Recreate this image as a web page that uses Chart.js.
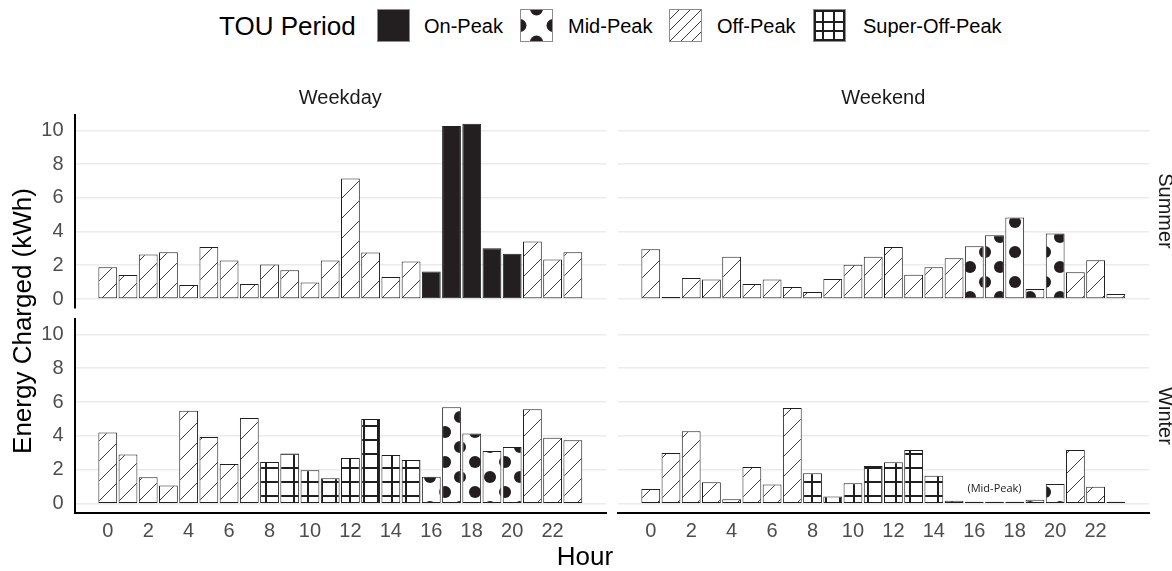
<!DOCTYPE html>
<html>
<head>
<meta charset="utf-8">
<title>Energy Charged by Hour and TOU Period</title>
<script src="https://cdn.jsdelivr.net/npm/chart.js@4.4.1/dist/chart.umd.min.js"></script>
<style>
  html, body { margin: 0; padding: 0; background: #fff; }
  body {
    width: 1172px; height: 571px; position: relative; overflow: hidden;
    font-family: "Liberation Sans", Arial, sans-serif; color: #1a1a1a;
  }
  canvas.panel { position: absolute; }
  .txt { position: absolute; white-space: nowrap; z-index: 2; }
  .key { position: absolute; z-index: 2; }
</style>
</head>
<body>

<!-- legend -->
<div class="txt" style="left:219px; top:11px; font-size:26px; line-height:30px; color:#000;">TOU Period</div>
<canvas class="key" id="key-on" width="33" height="33" style="left:377px; top:9px;"></canvas>
<div class="txt" style="left:424px; top:13px; font-size:20px; line-height:26px; color:#000;">On-Peak</div>
<canvas class="key" id="key-mid" width="33" height="33" style="left:520px; top:9px;"></canvas>
<div class="txt" style="left:568px; top:13px; font-size:20px; line-height:26px; color:#000;">Mid-Peak</div>
<canvas class="key" id="key-off" width="33" height="33" style="left:669px; top:9px;"></canvas>
<div class="txt" style="left:717px; top:13px; font-size:20px; line-height:26px; color:#000;">Off-Peak</div>
<canvas class="key" id="key-super" width="33" height="33" style="left:813px; top:9px;"></canvas>
<div class="txt" style="left:863px; top:13px; font-size:20px; line-height:26px; color:#000;">Super-Off-Peak</div>

<!-- facet strips -->
<div class="txt" style="left:74.5px; width:531.6px; top:85px; line-height:24px; font-size:20px; text-align:center;">Weekday</div>
<div class="txt" style="left:617.5px; width:531.6px; top:85px; line-height:24px; font-size:20px; text-align:center;">Weekend</div>
<div class="txt" style="left:1068.5px; width:193px; top:199.4px; line-height:24px; font-size:20px; text-align:center; transform:rotate(90deg);">Summer</div>
<div class="txt" style="left:1068.5px; width:193px; top:403.7px; line-height:24px; font-size:20px; text-align:center; transform:rotate(90deg);">Winter</div>

<!-- axis titles -->
<div class="txt" style="left:-178px; width:400px; top:306px; line-height:30px; font-size:26px; text-align:center; color:#000; transform:rotate(-90deg);">Energy Charged (kWh)</div>
<div class="txt" style="left:485px; width:200px; top:541px; line-height:30px; font-size:26px; text-align:center; color:#000;">Hour</div>

<script>
// ---- data ----------------------------------------------------------------
const hours = [0, 1, 2, 3, 4, 5, 6, 7, 8, 9, 10, 11, 12, 13, 14, 15, 16, 17, 18, 19, 20, 21, 22, 23];
const hourTicks = [0, 2, 4, 6, 8, 10, 12, 14, 16, 18, 20, 22];
const energyTicks = [0, 2, 4, 6, 8, 10];

const ON = 'On-Peak', MID = 'Mid-Peak', OFF = 'Off-Peak', SUPER = 'Super-Off-Peak';
const periods = [ON, MID, OFF, SUPER];

// Summer / Weekday
const summerWeekdayKWh = [1.89, 1.42, 2.64, 2.78, 0.83, 3.09, 2.28, 0.89, 2.05, 1.71, 0.98, 2.28,
                          7.15, 2.76, 1.30, 2.22, 1.63, 10.26, 10.39, 3.01, 2.68, 3.41, 2.34, 2.78];
const summerWeekdayTOU = [OFF, OFF, OFF, OFF, OFF, OFF, OFF, OFF, OFF, OFF, OFF, OFF,
                          OFF, OFF, OFF, OFF, ON, ON, ON, ON, ON, OFF, OFF, OFF];

// Summer / Weekend
const summerWeekendKWh = [2.95, 0.06, 1.24, 1.16, 2.50, 0.89, 1.16, 0.71, 0.41, 1.18, 2.03, 2.50,
                          3.09, 1.44, 1.89, 2.42, 3.13, 3.78, 4.84, 0.59, 3.88, 1.59, 2.30, 0.30];
const summerWeekendTOU = [OFF, OFF, OFF, OFF, OFF, OFF, OFF, OFF, OFF, OFF, OFF, OFF,
                          OFF, OFF, OFF, OFF, MID, MID, MID, MID, MID, OFF, OFF, OFF];

// Winter / Weekday
const winterWeekdayKWh = [4.21, 2.91, 1.56, 1.08, 5.49, 3.94, 2.34, 5.06, 2.46, 2.97, 1.97, 1.50,
                          2.70, 5.00, 2.87, 2.58, 1.59, 5.69, 4.15, 3.11, 3.35, 5.57, 3.90, 3.74];
const winterWeekdayTOU = [OFF, OFF, OFF, OFF, OFF, OFF, OFF, OFF, SUPER, SUPER, SUPER, SUPER,
                          SUPER, SUPER, SUPER, SUPER, MID, MID, MID, MID, MID, OFF, OFF, OFF];

// Winter / Weekend
const winterWeekendKWh = [0.87, 2.99, 4.27, 1.26, 0.26, 2.17, 1.14, 5.65, 1.79, 0.43, 1.20, 2.22,
                          2.44, 3.17, 1.65, 0.18, 0.04, 0.10, 0.06, 0.24, 1.16, 3.17, 1.00, 0.12];
const winterWeekendTOU = [OFF, OFF, OFF, OFF, OFF, OFF, OFF, OFF, SUPER, SUPER, SUPER, SUPER,
                          SUPER, SUPER, SUPER, SUPER, MID, MID, MID, MID, MID, OFF, OFF, OFF];

// note placed over the near-empty mid-peak hours of the winter weekend
const midPeakNote = { text: '(Mid-Peak)', hour: 17, kwh: 0.88 };

// ---- look ----------------------------------------------------------------
const FONT = '"Liberation Sans", Arial, sans-serif';
const INK = '#231f20';
Chart.defaults.font.family = FONT;

function tile(w, h, paint) {
  const c = document.createElement('canvas');
  c.width = w; c.height = h;
  const g = c.getContext('2d');
  g.fillStyle = '#fff';
  g.fillRect(0, 0, w, h);
  paint(g, w, h);
  return c;
}

// staggered polka dots
function paintDots(g, w, h, pts, r) {
  g.fillStyle = INK;
  for (const [x, y] of pts) {
    for (const dx of [-w, 0, w]) for (const dy of [-h, 0, h]) {
      g.beginPath(); g.arc(x + dx, y + dy, r, 0, Math.PI * 2); g.fill();
    }
  }
}
// "/" hatching
function paintHatch(g, w, h) {
  g.strokeStyle = '#3a3a3a';
  g.lineWidth = 1;
  g.beginPath();
  g.moveTo(-2, h + 2); g.lineTo(w + 2, -2);
  g.moveTo(-2, 2); g.lineTo(2, -2);
  g.moveTo(w - 2, h + 2); g.lineTo(w + 2, h - 2);
  g.stroke();
}
// cross-hatch grid
function paintGrid(g, w, h, xs, ys) {
  g.fillStyle = '#1f1f1f';
  for (const x of xs) g.fillRect(x - 1, 0, 2, h);
  for (const y of ys) g.fillRect(0, y - 1, w, 2);
}

const dotTile = tile(30, 30, (g, w, h) => paintDots(g, w, h, [[10, 27], [25, 12]], 6));
const hatchTile = tile(20, 20, paintHatch);
const gridTile = tile(14, 14, (g, w, h) => paintGrid(g, w, h, [0, 14], [6]));

// patterns share one page-wide lattice, whichever canvas they are painted on
function fillsFor(ctx, left, top) {
  const shift = new DOMMatrix().translate(-left, -top);
  const make = (t) => { const p = ctx.createPattern(t, 'repeat'); p.setTransform(shift); return p; };
  return { [ON]: INK, [MID]: make(dotTile), [OFF]: make(hatchTile), [SUPER]: make(gridTile) };
}

// ---- legend keys ------------------------------------------------------------
function drawKey(id, paint) {
  const c = document.getElementById(id);
  const g = c.getContext('2d');
  g.fillStyle = '#fff';
  g.fillRect(0, 0, c.width, c.height);
  g.save();
  paint(g, c.width, c.height);
  g.restore();
  g.strokeStyle = '#8c8c8c';
  g.lineWidth = 1;
  g.strokeRect(0.5, 0.5, c.width - 1, c.height - 1);
}
drawKey('key-on', (g, w, h) => { g.fillStyle = INK; g.fillRect(0, 0, w, h); });
drawKey('key-mid', (g, w, h) => {
  g.fillStyle = INK;
  for (const [x, y] of [[w / 2, 0], [0, h / 2], [w, h / 2], [w / 2, h]]) {
    g.beginPath(); g.arc(x, y, 6.5, 0, Math.PI * 2); g.fill();
  }
});
drawKey('key-off', (g, w, h) => {
  g.fillStyle = g.createPattern(tile(11, 11, paintHatch), 'repeat');
  g.fillRect(0, 0, w, h);
});
drawKey('key-super', (g, w, h) => paintGrid(g, w, h, [2, 10, 21, 31], [2, 13, 22, 31]));

// ---- panels -------------------------------------------------------------------
const panels = [
  { kwh: summerWeekdayKWh, tou: summerWeekdayTOU,
    box: { left: 30, top: 85, width: 586, height: 253 },
    pad: { top: 30, right: 9.9, bottom: 30.2, left: 0 }, yAxisW: 44.5, xAxisH: 0, showX: false, showY: true },
  { kwh: summerWeekendKWh, tou: summerWeekendTOU,
    box: { left: 590, top: 85, width: 572, height: 253 },
    pad: { top: 30, right: 12.9, bottom: 30.2, left: 27.5 }, yAxisW: 0, xAxisH: 0, showX: false, showY: false },
  { kwh: winterWeekdayKWh, tou: winterWeekdayTOU,
    box: { left: 30, top: 289, width: 586, height: 274 },
    pad: { top: 29.9, right: 9.9, bottom: 0, left: 0 }, yAxisW: 44.5, xAxisH: 50.5, showX: true, showY: true },
  { kwh: winterWeekendKWh, tou: winterWeekendTOU,
    box: { left: 590, top: 289, width: 572, height: 274 },
    pad: { top: 29.9, right: 12.9, bottom: 0, left: 27.5 }, yAxisW: 0, xAxisH: 50.5, showX: true, showY: false,
    note: midPeakNote },
];

const notePlugin = {
  id: 'midPeakNote',
  afterDatasetsDraw(chart, args, opts) {
    const note = opts && opts.note;
    if (!note) return;
    const { ctx, scales: { x, y } } = chart;
    ctx.save();
    ctx.font = '11px "Open Sans", sans-serif';
    ctx.fillStyle = '#222';
    ctx.textAlign = 'center';
    ctx.textBaseline = 'middle';
    ctx.fillText(note.text, x.getPixelForValue(note.hour), y.getPixelForValue(note.kwh));
    ctx.restore();
  }
};

function buildPanel(p) {
  const canvas = document.createElement('canvas');
  canvas.className = 'panel';
  canvas.width = p.box.width;
  canvas.height = p.box.height;
  Object.assign(canvas.style, {
    left: p.box.left + 'px', top: p.box.top + 'px',
    width: p.box.width + 'px', height: p.box.height + 'px'
  });
  document.body.appendChild(canvas);
  const fills = fillsFor(canvas.getContext('2d'), p.box.left, p.box.top);

  const datasets = periods.map(per => ({
    label: per,
    data: hours.map((h, i) => (p.tou[i] === per ? { x: h, y: p.kwh[i] } : null)).filter(Boolean),
    backgroundColor: fills[per],
    borderColor: '#1f1f1f',
    borderWidth: 1,
    borderSkipped: false,
    minBarLength: 2,
    grouped: false,
    barPercentage: 0.93,
    categoryPercentage: 1
  }));

  const tickFont = { family: FONT, size: 20 };

  new Chart(canvas, {
    type: 'bar',
    data: { datasets },
    plugins: [notePlugin],
    options: {
      responsive: false,
      animation: false,
      devicePixelRatio: 1,
      layout: { padding: p.pad },
      plugins: {
        legend: { display: false },
        tooltip: { enabled: false },
        midPeakNote: { note: p.note || null }
      },
      scales: {
        x: {
          type: 'linear',
          min: -1.645, max: 24.645,
          offset: false,
          display: p.showX,
          afterBuildTicks: s => { s.ticks = hourTicks.map(v => ({ value: v })); },
          afterFit: s => { s.height = p.xAxisH; },
          grid: { display: false, drawTicks: false, offset: false },
          border: { display: true, color: '#000', width: 2 },
          ticks: { color: '#4d4d4d', font: tickFont, padding: 7, maxRotation: 0, autoSkip: false }
        },
        y: {
          type: 'linear',
          min: -0.52, max: 10.91,
          afterBuildTicks: s => { s.ticks = energyTicks.map(v => ({ value: v })); },
          afterFit: s => { s.width = p.yAxisW; },
          grid: { color: '#ebebeb', lineWidth: 1.6, drawTicks: false },
          border: { display: p.showY, color: '#000', width: 2 },
          ticks: { display: p.showY, color: '#4d4d4d', font: tickFont, padding: 11 }
        }
      }
    }
  });
}

panels.forEach(buildPanel);
</script>
</body>
</html>
